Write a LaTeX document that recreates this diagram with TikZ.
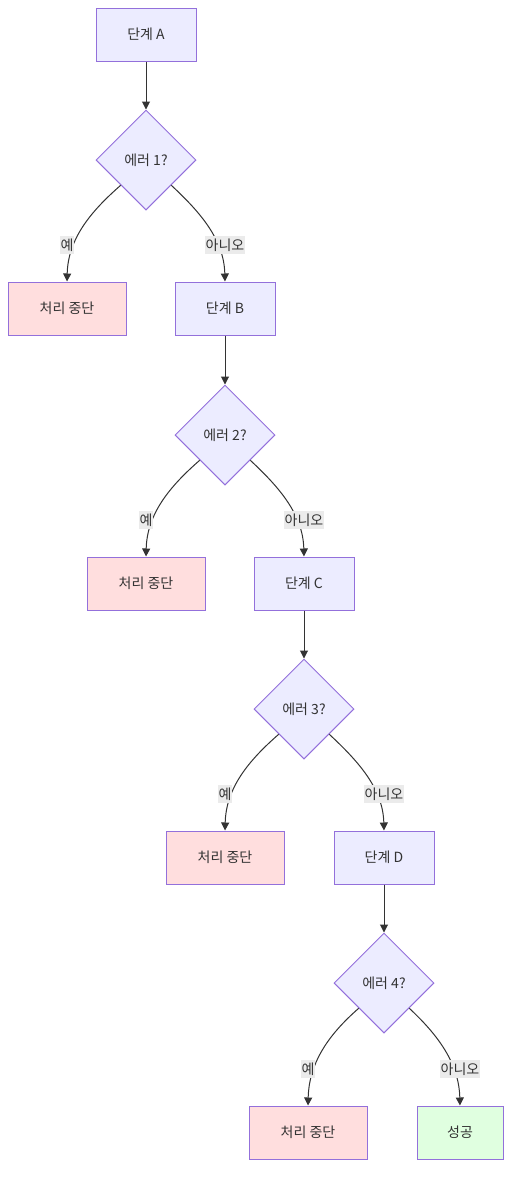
\documentclass[tikz,border=0pt]{standalone}
\usepackage{fontspec}
\setmainfont{Noto Sans CJK KR}
\usetikzlibrary{shapes.geometric,arrows.meta}
\definecolor{boxfill}{HTML}{ECECFF}
\definecolor{boxline}{HTML}{9370DB}
\definecolor{stopfill}{HTML}{FFDEDE}
\definecolor{okfill}{HTML}{E0FFE0}
\definecolor{edgecol}{HTML}{333333}
\definecolor{lblfill}{HTML}{EBEBEB}
\tikzset{
  stepbox/.style={draw=boxline, fill=boxfill, line width=1pt, minimum width=100pt, minimum height=53pt, inner sep=0pt},
  stopbox/.style={stepbox, fill=stopfill, minimum width=118pt},
  okbox/.style={stepbox, fill=okfill, minimum width=86pt},
  decision/.style={diamond, draw=boxline, fill=boxfill, line width=1pt, minimum width=100pt, minimum height=100pt, inner sep=0pt},
  edge/.style={draw=edgecol, line width=1pt, -{Triangle[length=8pt,width=8pt]}},
  lbl/.style={fill=lblfill, inner xsep=1pt, inner ysep=3pt, text=edgecol}
}
\begin{document}
\begin{tikzpicture}[x=1pt,y=-1pt, font=\fontsize{14}{16}\selectfont, text=edgecol]
\useasboundingbox (0,0) rectangle (519,1186);
% nodes
\node[stepbox] (a) at (146,34.5) {단계 A};
\node[decision] (d1) at (146,160) {에러 1?};
\node[stopbox] (s1) at (67,308.5) {처리 중단};
\node[stepbox] (b) at (225,308.5) {단계 B};
\node[decision] (d2) at (225,435) {에러 2?};
\node[stopbox] (s2) at (146,583.5) {처리 중단};
\node[stepbox] (c) at (304,583.5) {단계 C};
\node[decision] (d3) at (304,709) {에러 3?};
\node[stopbox] (s3) at (225,857.5) {처리 중단};
\node[stepbox] (d) at (384,857.5) {단계 D};
\node[decision] (d4) at (384,983) {에러 4?};
\node[stopbox] (s4) at (308,1132.5) {처리 중단};
\node[okbox] (ok) at (460,1132.5) {성공};
% straight edges
\draw[edge] (a.south) -- (d1.north);
\draw[edge] (b.south) -- (d2.north);
\draw[edge] (c.south) -- (d3.north);
\draw[edge] (d.south) -- (d4.north);
% curved edges
\draw[edge] (d1.south west) .. controls +(-31,27) and +(1,-42) .. (s1.north);
\draw[edge] (d1.south east) .. controls +(29,27) and +(-1,-42) .. (b.north);
\draw[edge] (d2.south west) .. controls +(-31,27) and +(1,-42) .. (s2.north);
\draw[edge] (d2.south east) .. controls +(29,27) and +(-1,-42) .. (c.north);
\draw[edge] (d3.south west) .. controls +(-31,27) and +(1,-42) .. (s3.north);
\draw[edge] (d3.south east) .. controls +(29,27) and +(-1,-42) .. (d.north);
\draw[edge] (d4.south west) .. controls +(-31,27) and +(1,-42) .. (s4.north);
\draw[edge] (d4.south east) .. controls +(29,27) and +(-1,-42) .. (ok.north);
% labels
\node[lbl] (l1y) at ([yshift=36.5pt]s1.north) {예};
\node[lbl] (l1n) at ([yshift=36.5pt]b.north) {아니오};
\node[lbl] (l2y) at ([yshift=36.5pt]s2.north) {예};
\node[lbl] (l2n) at ([yshift=36.5pt]c.north) {아니오};
\node[lbl] (l3y) at ([yshift=36.5pt]s3.north) {예};
\node[lbl] (l3n) at ([yshift=36.5pt]d.north) {아니오};
\node[lbl] (l4y) at ([yshift=36.5pt]s4.north) {예};
\node[lbl] (l4n) at ([yshift=36.5pt]ok.north) {아니오};
\end{tikzpicture}
\end{document}
